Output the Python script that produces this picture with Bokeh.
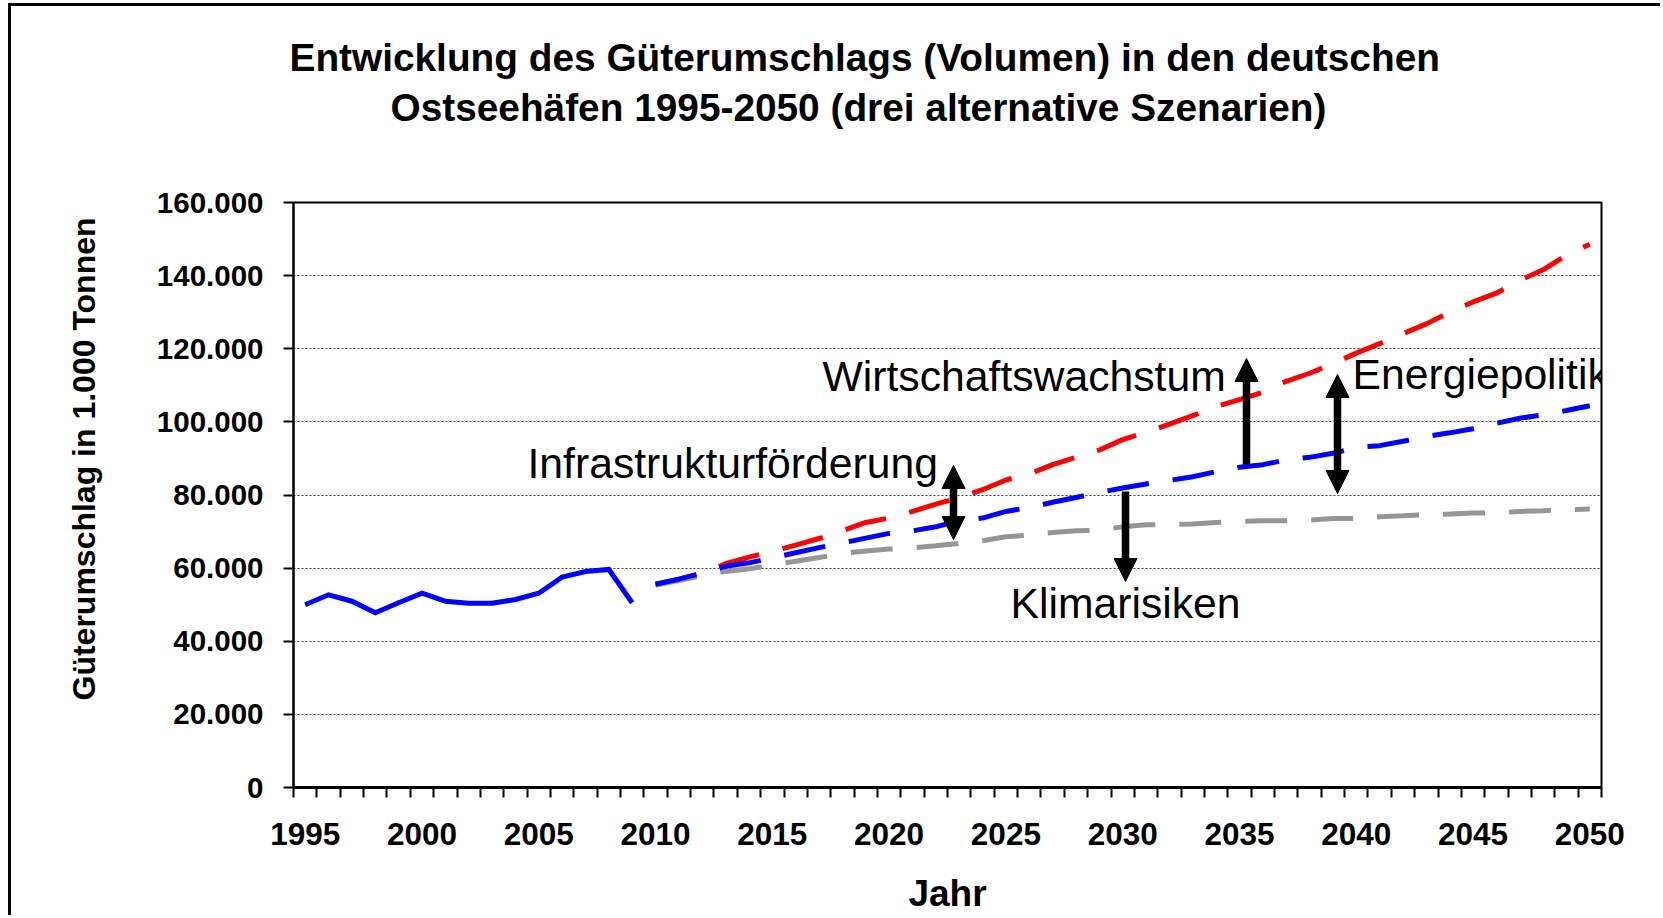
from bokeh.plotting import figure
from bokeh.models import FixedTicker, Label, Arrow, NormalHead, Range1d, Title
from bokeh.embed import file_html
from bokeh.resources import INLINE

# ---------------- data ----------------
title_line1 = "Entwicklung des Güterumschlags (Volumen) in den deutschen"
title_line2 = "Ostseehäfen 1995-2050  (drei alternative Szenarien)"
y_title = "Güterumschlag in 1.000 Tonnen"
x_title = "Jahr"

years_hist = list(range(1995, 2010))
hist = [49970, 52700, 50950, 47780, 50520, 53140, 50950, 50410, 50410, 51420,
        53140, 57520, 59080, 59630, 50520]

years_scen = list(range(2010, 2051))
# red: high scenario
scen_high = [55600, 57000, 58600, 61200, 63000, 64600, 66300, 68100, 70200, 72500,
             73700, 75500, 77500, 79300, 81450, 84100, 85750, 88300, 90300, 92300,
             95150, 97150, 99400, 101700, 104200, 106100, 108100, 111100, 113300, 115900,
             118800, 121400, 124100, 126800, 130000, 132800, 135200, 138700, 141600, 145600,
             148600]
# blue: middle scenario
scen_mid = [55600, 57000, 58600, 60500, 61450, 62800, 64200, 65600, 66900, 68200,
            69500, 70200, 71300, 73000, 73700, 75500, 76600, 78000, 79300, 80700,
            81900, 83000, 84000, 85000, 86400, 87600, 88300, 89600, 90300, 91400,
            93000, 93500, 94700, 96000, 97000, 98100, 99600, 101000, 101900, 103100,
            104400]
# grey: low scenario
scen_low = [55400, 56600, 57900, 59100, 59800, 60800, 61900, 62900, 64000, 64700,
            65200, 65550, 66100, 66750, 67500, 68600, 69000, 69750, 70200, 70400,
            71300, 71850, 71950, 72050, 72500, 72800, 72950, 72950, 73150, 73600,
            73600, 74050, 74300, 74600, 74800, 75050, 75100, 75500, 75700, 76000,
            76150]

x_tick_years = [1995, 2000, 2005, 2010, 2015, 2020, 2025, 2030, 2035, 2040, 2045, 2050]
y_ticks = [0, 20000, 40000, 60000, 80000, 100000, 120000, 140000, 160000]
y_tick_labels = ["0", "20.000", "40.000", "60.000", "80.000", "100.000",
                 "120.000", "140.000", "160.000"]

annot_texts = ["Infrastrukturförderung", "Wirtschaftswachstum", "Energiepolitik", "Klimarisiken"]

# ---------------- layout (page pixels) ----------------
FONT = "Liberation Sans"
BORDER = 3
MARGIN_L, MARGIN_T = 8, 3
CANVAS_X, CANVAS_Y = MARGIN_L + BORDER, MARGIN_T + BORDER
W, H = 1663 - CANVAS_X, 918 - CANVAS_Y
FRAME_L, FRAME_R, FRAME_T, FRAME_B = 293, 1601, 202, 787
X0, X1 = years_hist[0] - 0.5, years_scen[-1] + 0.5
Y0, Y1 = y_ticks[0], y_ticks[-1]


def px_x(px):
    return X0 + (px - FRAME_L) / (FRAME_R - FRAME_L) * (X1 - X0)


def px_y(py):
    return Y0 + (FRAME_B - py) / (FRAME_B - FRAME_T) * (Y1 - Y0)


p = figure(width=W, height=H, x_range=Range1d(X0, X1), y_range=Range1d(Y0, Y1),
           output_backend="svg", toolbar_location=None, title=None,
           min_border_left=FRAME_L - CANVAS_X, min_border_right=1663 - FRAME_R,
           min_border_top=FRAME_T - CANVAS_Y, min_border_bottom=918 - FRAME_B)
p.styles = {"border-left": f"{BORDER}px solid black", "border-top": f"{BORDER}px solid black",
            "margin-left": f"{MARGIN_L}px", "margin-top": f"{MARGIN_T}px"}
p.background_fill_color = "white"
p.border_fill_color = "white"
p.outline_line_color = "black"
p.outline_line_width = 2

# grid
p.xgrid.visible = False
p.ygrid.ticker = FixedTicker(ticks=y_ticks)
p.ygrid.grid_line_color = "#404040"
p.ygrid.grid_line_dash = "2 2"
p.ygrid.grid_line_width = 1

# y axis
yax = p.yaxis[0]
yax.ticker = FixedTicker(ticks=y_ticks)
yax.major_label_overrides = dict(zip(y_ticks, y_tick_labels))
yax.axis_line_color = "black"
yax.axis_line_width = 2
yax.major_tick_out = 10
yax.major_tick_in = 0
yax.major_tick_line_width = 2
yax.minor_tick_line_color = None
yax.major_label_standoff = 20
yax.major_label_text_font = FONT
yax.major_label_text_font_style = "bold"
yax.major_label_text_font_size = "29.5px"
yax.major_label_text_color = "black"

# x axis
boundaries = [X0 + i for i in range(int(X1 - X0) + 1)]
xax = p.xaxis[0]
xax.ticker = FixedTicker(ticks=x_tick_years, minor_ticks=boundaries)
xax.axis_line_color = "black"
xax.axis_line_width = 3
xax.major_tick_line_color = None
xax.major_tick_out = 10
xax.major_tick_in = 0
xax.minor_tick_out = 10
xax.minor_tick_in = 0
xax.minor_tick_line_width = 2
xax.minor_tick_line_color = "black"
xax.major_label_standoff = 25
xax.major_label_text_font = FONT
xax.major_label_text_font_style = "bold"
xax.major_label_text_font_size = "31.5px"
xax.major_label_text_color = "black"
xax.axis_label = x_title
xax.axis_label_standoff = 25
xax.axis_label_text_font = FONT
xax.axis_label_text_font_style = "bold"
xax.axis_label_text_font_size = "37px"
xax.axis_label_text_color = "black"

# lines
dash = "42 24"
p.line(years_scen, scen_high, line_color="#FF0000", line_width=5, line_dash=dash, line_cap="butt")
p.line(years_scen, scen_low, line_color="#969696", line_width=5, line_dash=dash, line_cap="butt")
p.line(years_scen, scen_mid, line_color="#0000FF", line_width=5, line_dash=dash, line_cap="butt")
p.line(years_hist, hist, line_color="#0000FF", line_width=5, line_join="miter")

# titles (closest to the frame first): spacer, line 2, line 1
p.add_layout(Title(text=" ", text_font_size="1px", standoff=66), "above")
p.add_layout(Title(text=title_line2, align="left", offset=390 - FRAME_L, standoff=10,
                   text_font=FONT, text_font_style="bold", text_font_size="38.8px",
                   text_color="black"), "above")
p.add_layout(Title(text=title_line1, align="left", offset=289 - FRAME_L, standoff=0,
                   text_font=FONT, text_font_style="bold", text_font_size="38.8px",
                   text_color="black"), "above")
p.add_layout(Title(text=y_title, align="left", offset=FRAME_B - 700, standoff=104,
                   text_font=FONT, text_font_style="bold", text_font_size="32px",
                   text_color="black"), "left")

# annotation texts (left edge, baseline in page px)
annot_pos = [(527, 462), (822, 375), (1352, 373), (1010, 602)]
for txt, (lx, ly) in zip(annot_texts, annot_pos):
    p.add_layout(Label(x=px_x(lx), y=px_y(ly), text=txt, text_font=FONT,
                       text_font_size="42.7px", text_color="black",
                       text_align="left", text_baseline="alphabetic"))

# arrows: (x, y_from, y_to, double) in page px
arrows = [(953, 539, 465, True), (1246, 464, 358, False),
          (1337, 493, 374, True), (1125, 491, 581, False)]
for ax, y_from, y_to, double in arrows:
    end = NormalHead(size=23, fill_color="black", line_color="black")
    start = NormalHead(size=23, fill_color="black", line_color="black") if double else None
    p.add_layout(Arrow(x_start=px_x(ax), y_start=px_y(y_from), x_end=px_x(ax), y_end=px_y(y_to),
                       start=start, end=end, line_width=7.5, line_color="black"))

open("out.html", "w").write(file_html(p, INLINE))
